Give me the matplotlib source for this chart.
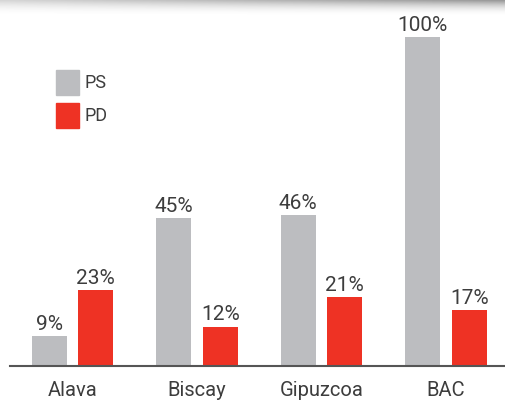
import matplotlib.pyplot as plt
import numpy as np
from matplotlib.patches import Patch

regions = ['Alava', 'Biscay', 'Gipuzcoa', 'BAC']
ps_values = [9, 45, 46, 100]
pd_values = [23, 12, 21, 17]

gray = '#bcbdc0'
red = '#ee3224'
text_color = '#3d3d3d'
font = ['Roboto', 'DejaVu Sans']

fig = plt.figure(figsize=(5.05, 4.01), dpi=100)
ax = fig.add_axes([10 / 505, 35 / 401, 495 / 505, 366 / 401])

x = np.arange(len(regions))
width = 0.281
offset = 0.187

bars_ps = ax.bar(x - offset, ps_values, width, color=gray, label='PS')
bars_pd = ax.bar(x + offset, pd_values, width, color=red, label='PD')

for bars in (bars_ps, bars_pd):
    for b in bars:
        ax.annotate(f'{b.get_height():.0f}%', (b.get_x() + b.get_width() / 2, b.get_height()),
                    xytext=(0, 1.5), textcoords='offset points', ha='center', va='bottom',
                    fontsize=15, color=text_color, family=font)

ax.set_xlim(-0.502, 3.474)
ax.set_ylim(0, 111.2)
ax.set_xticks(x)
ax.set_xticklabels(regions, fontsize=14.5, color=text_color, family=font)
ax.tick_params(axis='x', length=0, pad=11)
ax.set_yticks([])
for s in ['top', 'right', 'left']:
    ax.spines[s].set_visible(False)
ax.spines['bottom'].set_color('#555555')
ax.spines['bottom'].set_linewidth(1.5)

handles = [Patch(color=gray, label='PS'), Patch(color=red, label='PD')]
ax.legend(handles=handles, loc='upper left', bbox_to_anchor=(56 / 505, 1 - 70 / 401),
          bbox_transform=fig.transFigure, frameon=False, borderpad=0, borderaxespad=0,
          handlelength=1.27, handleheight=1.75, labelspacing=0.45, handletextpad=0.3,
          prop={'family': font, 'size': 13}, labelcolor=text_color)

# soft shadow band along the top edge (transparent so text below stays visible)
gy = np.linspace(0, 1, 40)[:, None]
gx = np.linspace(0, 1, 200)[None, :]
alpha = (1 - gy) ** 2 * (0.3 + 0.45 * gx)
shade = np.zeros((40, 200, 4))
shade[..., :3] = 0.45
shade[..., 3] = alpha
sh = fig.add_axes([0, 1 - 16 / 401, 1, 16 / 401])
sh.imshow(shade, aspect='auto', interpolation='bilinear')
sh.axis('off')

fig.savefig('out.png', dpi=100)
